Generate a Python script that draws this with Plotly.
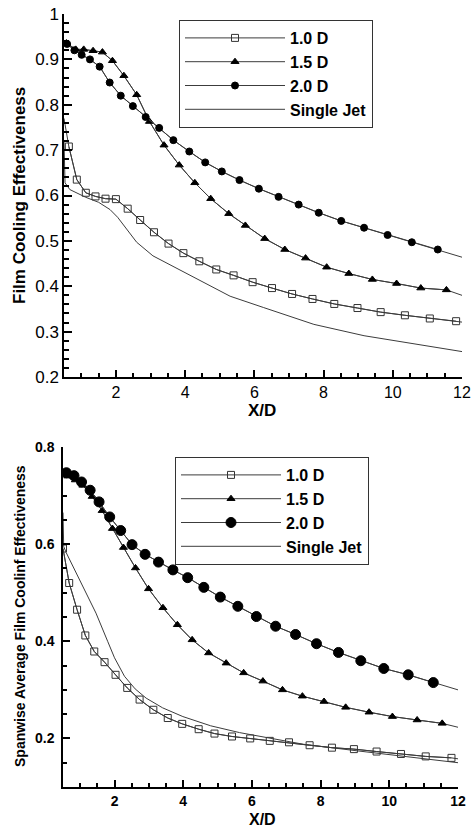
import plotly.graph_objects as go

# ---------------- data: top panel (Film Cooling Effectiveness) ----------------
x10_top = [0.5, 0.64, 0.87, 1.13, 1.41, 1.70, 2.0, 2.34, 2.70, 3.10, 3.52, 3.95, 4.41, 4.90, 5.40,
           5.95, 6.51, 7.09, 7.68, 8.31, 8.98, 9.65, 10.35, 11.07, 11.83, 12.0]
y10_top = [0.77, 0.708, 0.635, 0.606, 0.598, 0.593, 0.592, 0.571, 0.546, 0.519, 0.494, 0.473, 0.455,
           0.437, 0.424, 0.409, 0.396, 0.383, 0.372, 0.361, 0.352, 0.343, 0.336, 0.329, 0.323, 0.321]

x15_top = [0.5, 0.57, 0.84, 1.07, 1.34, 1.61, 1.90, 2.23, 2.60, 2.97, 3.39, 3.83, 4.28, 4.74, 5.26,
           5.74, 6.30, 6.88, 7.48, 8.09, 8.73, 9.41, 10.11, 10.81, 11.55, 12.0]
y15_top = [0.94, 0.936, 0.922, 0.922, 0.919, 0.916, 0.897, 0.864, 0.822, 0.763, 0.711, 0.667, 0.628,
           0.593, 0.560, 0.534, 0.505, 0.481, 0.462, 0.442, 0.428, 0.415, 0.406, 0.396, 0.392, 0.380]

x20_top = [0.5, 0.59, 0.80, 1.01, 1.25, 1.53, 1.82, 2.14, 2.49, 2.86, 3.25, 3.66, 4.12, 4.58, 5.06,
           5.57, 6.13, 6.70, 7.28, 7.86, 8.51, 9.17, 9.85, 10.55, 11.30, 12.0]
y20_top = [0.937, 0.934, 0.920, 0.910, 0.900, 0.884, 0.849, 0.820, 0.797, 0.773, 0.749, 0.722, 0.697,
           0.673, 0.653, 0.634, 0.615, 0.597, 0.580, 0.562, 0.544, 0.529, 0.513, 0.497, 0.481, 0.464]

xsj_top = [0.5, 0.53, 0.67, 1.13, 1.5, 1.83, 2.05, 2.26, 2.6, 3.07, 3.86, 4.82, 5.30, 6.27, 7.72,
           9.17, 10.62, 12.0]
ysj_top = [0.72, 0.628, 0.613, 0.596, 0.585, 0.569, 0.552, 0.530, 0.497, 0.467, 0.436, 0.397, 0.378,
           0.353, 0.316, 0.291, 0.273, 0.256]

# ---------------- data: bottom panel (Spanwise average) ----------------
x10_bot = [0.5, 0.68, 0.91, 1.15, 1.41, 1.71, 2.03, 2.37, 2.73, 3.13, 3.55, 3.97, 4.45, 4.91, 5.42,
           5.95, 6.52, 7.08, 7.68, 8.33, 8.97, 9.63, 10.34, 11.06, 11.81, 12.0]
y10_bot = [0.591, 0.520, 0.465, 0.412, 0.379, 0.357, 0.331, 0.304, 0.280, 0.259, 0.242, 0.230, 0.219,
           0.210, 0.204, 0.200, 0.195, 0.192, 0.186, 0.181, 0.178, 0.173, 0.168, 0.163, 0.160, 0.158]

x15_bot = [0.5, 0.64, 0.86, 1.08, 1.35, 1.64, 1.94, 2.26, 2.61, 2.99, 3.41, 3.83, 4.26, 4.74, 5.25,
           5.76, 6.32, 6.89, 7.47, 8.10, 8.73, 9.41, 10.09, 10.81, 11.54, 12.0]
y15_bot = [0.745, 0.740, 0.732, 0.721, 0.698, 0.669, 0.632, 0.593, 0.551, 0.508, 0.469, 0.434, 0.403,
           0.376, 0.355, 0.335, 0.318, 0.300, 0.287, 0.276, 0.264, 0.254, 0.245, 0.238, 0.231, 0.223]

x20_bot = [0.5, 0.60, 0.82, 1.04, 1.29, 1.55, 1.86, 2.18, 2.51, 2.89, 3.28, 3.70, 4.13, 4.60, 5.08,
           5.59, 6.13, 6.69, 7.27, 7.88, 8.52, 9.17, 9.84, 10.55, 11.28, 12.0]
y20_bot = [0.750, 0.747, 0.741, 0.728, 0.711, 0.687, 0.656, 0.628, 0.599, 0.579, 0.563, 0.547, 0.531,
           0.511, 0.491, 0.472, 0.451, 0.431, 0.414, 0.395, 0.377, 0.360, 0.344, 0.331, 0.315, 0.300]

xsj_bot = [0.5, 0.52, 0.59, 1.0, 1.22, 1.46, 1.8, 2.0, 2.29, 2.6, 2.92, 3.4, 3.99, 4.8, 5.64, 7.5,
           9.0, 10.5, 12.0]
ysj_bot = [0.665, 0.595, 0.583, 0.525, 0.494, 0.458, 0.400, 0.366, 0.328, 0.302, 0.283, 0.263,
           0.245, 0.226, 0.212, 0.188, 0.175, 0.163, 0.150]

names = ["1.0 D", "1.5 D", "2.0 D", "Single Jet"]

W, H = 474, 829
LINE = "#3c3c3c"
FONT = "Liberation Sans, Arial, sans-serif"

fig = go.Figure()


def add_series(x, y, name, xa, ya, legend, symbol=None, msize=7, mcolor="black", lo=1, hi=-1):
    # full line
    fig.add_trace(go.Scatter(x=x, y=y, mode="lines", line=dict(color=LINE, width=1),
                             xaxis=xa, yaxis=ya, showlegend=(symbol is None), name=name,
                             legend=legend, hoverinfo="skip"))
    if symbol is not None:
        fig.add_trace(go.Scatter(x=x[lo:hi], y=y[lo:hi], mode="lines+markers", name=name,
                                 line=dict(color=LINE, width=1),
                                 marker=dict(symbol=symbol, size=msize, color=mcolor,
                                             line=dict(color=mcolor, width=1)),
                                 xaxis=xa, yaxis=ya, legend=legend))


# top panel
add_series(x10_top, y10_top, names[0], "x", "y", "legend", "square-open", 7, "#333333")
add_series(x15_top, y15_top, names[1], "x", "y", "legend", "triangle-up", 7)
add_series(x20_top, y20_top, names[2], "x", "y", "legend", "circle", 7)
add_series(xsj_top, ysj_top, names[3], "x", "y", "legend")

# bottom panel
add_series(x10_bot, y10_bot, names[0], "x2", "y2", "legend2", "square-open", 7, "#333333", lo=0)
add_series(x15_bot, y15_bot, names[1], "x2", "y2", "legend2", "triangle-up", 7)
add_series(x20_bot, y20_bot, names[2], "x2", "y2", "legend2", "circle", 10)
add_series(xsj_bot, ysj_bot, names[3], "x2", "y2", "legend2")


def px(v):
    return v / W


def py(v):
    return 1 - v / H


axis_common = dict(showline=True, linecolor="black", linewidth=1.5, ticks="inside",
                   tickcolor="black", showgrid=False, zeroline=False, mirror=False,
                   automargin=False)

fig.update_layout(
    template="none",
    width=W, height=H, margin=dict(l=0, r=0, t=0, b=0, pad=0),
    paper_bgcolor="white", plot_bgcolor="white",
    font=dict(family=FONT, color="black"),
    xaxis=dict(domain=[px(64), px(462)], anchor="y", range=[0.5, 12], tick0=0, dtick=2,
               ticklen=7, tickwidth=1.5, tickfont=dict(size=16),
               minor=dict(ticks="inside", dtick=0.5, tick0=0, ticklen=4, tickcolor="black"),
               **axis_common),
    yaxis=dict(domain=[py(377), py(14)], anchor="x", range=[0.2, 1.0], tick0=0, dtick=0.1,
               ticklen=8, tickwidth=1.5, tickfont=dict(size=17), tickformat="~g",
               minor=dict(ticks="inside", dtick=0.02, tick0=0, ticklen=5, tickcolor="black"),
               **axis_common),
    xaxis2=dict(domain=[px(63), px(458)], anchor="y2", range=[0.5, 12], tick0=0, dtick=2,
                ticklen=7, tickwidth=1.5, tickfont=dict(size=14, family=FONT, weight="bold"),
                minor=dict(ticks="inside", dtick=0.5, tick0=0, ticklen=4, tickcolor="black"),
                **axis_common),
    yaxis2=dict(domain=[py(787), py(447)], anchor="x2", range=[0.1, 0.8], tick0=0, dtick=0.2,
                ticklen=7, tickwidth=1.5, tickfont=dict(size=14, family=FONT, weight="bold"),
                tickformat=".1f", ticklabelstandoff=4,
                minor=dict(ticks="inside", dtick=0.05, tick0=0, ticklen=4, tickcolor="black"),
                **axis_common),
    legend=dict(x=px(179), y=py(20), xanchor="left", yanchor="top", bgcolor="white",
                bordercolor="#333333", borderwidth=1, font=dict(size=16, weight="bold"),
                itemwidth=100, tracegroupgap=0),
    legend2=dict(x=px(175), y=py(457), xanchor="left", yanchor="top", bgcolor="white",
                 bordercolor="#333333", borderwidth=1, font=dict(size=16, weight="bold"),
                 itemwidth=100, tracegroupgap=0),
    annotations=[
        dict(text="<b>Film Cooling Effectiveness</b>", textangle=-90, x=px(20), y=py(196),
             xanchor="center", yanchor="middle",
             xref="paper", yref="paper", showarrow=False, font=dict(size=17)),
        dict(text="<b>X/D</b>", x=px(262), y=py(410), xanchor="center", yanchor="middle",
             xref="paper", yref="paper", showarrow=False, font=dict(size=17)),
        dict(text="<b>Spanwise Average Film Coolinf Effectiveness</b>", textangle=-90,
             x=px(20), y=py(616), xanchor="center", yanchor="middle",
             xref="paper", yref="paper", showarrow=False, font=dict(size=14)),
        dict(text="<b>X/D</b>", x=px(262), y=py(819), xanchor="center", yanchor="middle",
             xref="paper", yref="paper", showarrow=False, font=dict(size=16)),
    ],
)

fig.write_html("out.html")
